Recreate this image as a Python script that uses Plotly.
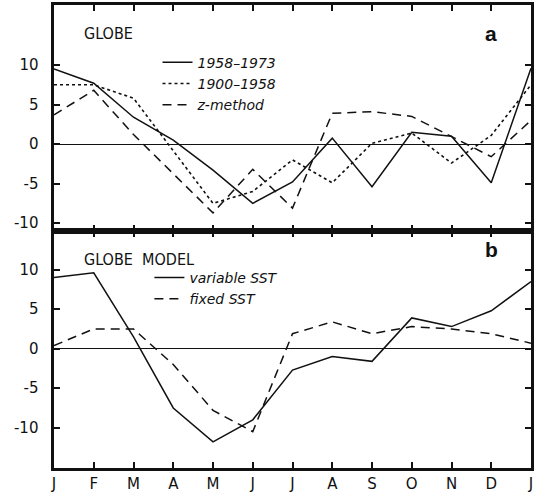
import plotly.graph_objects as go

months = ["J", "F", "M", "A", "M", "J", "J", "A", "S", "O", "N", "D", "J"]
xpos = list(range(13))

obs_1958_1973 = [9.5, 7.7, 3.4, 0.5, -3.3, -7.5, -4.8, 0.75, -5.4, 1.5, 1.0, -4.9, 9.6]
obs_1900_1958 = [7.5, 7.5, 5.8, -0.9, -7.5, -6.0, -2.0, -4.9, 0.1, 1.4, -2.4, 1.1, 7.5]
obs_zmethod = [3.7, 6.8, 1.2, -3.7, -8.7, -3.2, -8.1, 3.9, 4.1, 3.5, 1.0, -1.6, 3.0]

model_variable = [9.0, 9.6, 1.5, -7.5, -11.8, -9.0, -2.7, -1.0, -1.6, 3.9, 2.8, 4.8, 8.5]
model_fixed = [0.4, 2.5, 2.5, -2.0, -7.8, -10.5, 1.9, 3.4, 1.9, 2.8, 2.5, 1.9, 0.7]

ytick_vals = [-10, -5, 0, 5, 10]
ytick_text = ["-10", "-5", "0", "5", "10"]

BLACK = "#111111"
DASH = "9px,6px"
fig = go.Figure()

fig.add_trace(go.Scatter(x=xpos, y=obs_1958_1973, mode="lines", name="1958\u20131973",
                         line=dict(color=BLACK, width=1.5), xaxis="x", yaxis="y", legend="legend"))
fig.add_trace(go.Scatter(x=xpos, y=obs_1900_1958, mode="lines", name="1900\u20131958",
                         line=dict(color=BLACK, width=1.6, dash="dot"), xaxis="x", yaxis="y", legend="legend"))
fig.add_trace(go.Scatter(x=xpos, y=obs_zmethod, mode="lines", name="z-method",
                         line=dict(color=BLACK, width=1.5, dash=DASH), xaxis="x", yaxis="y", legend="legend"))

fig.add_trace(go.Scatter(x=xpos, y=model_variable, mode="lines", name="variable SST",
                         line=dict(color=BLACK, width=1.5), xaxis="x2", yaxis="y2", legend="legend2"))
fig.add_trace(go.Scatter(x=xpos, y=model_fixed, mode="lines", name="fixed SST",
                         line=dict(color=BLACK, width=1.5, dash=DASH), xaxis="x2", yaxis="y2", legend="legend2"))

tickfont = dict(family="DejaVu Sans, Liberation Sans, Arial, sans-serif", size=15, color=BLACK)
ylabels = [t + "\u00a0\u00a0" for t in ytick_text]
common_x = dict(range=[0, 12], tickvals=xpos, ticks="inside", ticklen=6, tickwidth=1.5,
                tickcolor=BLACK, showline=True, linecolor=BLACK, linewidth=3, mirror="ticks",
                showgrid=False, zeroline=False, fixedrange=True)
common_y = dict(tickvals=ytick_vals, ticktext=ylabels, ticks="inside", ticklen=6, tickwidth=1.5,
                tickcolor=BLACK, showline=True, linecolor=BLACK, linewidth=3, mirror="ticks",
                showgrid=False, zeroline=True, zerolinecolor=BLACK, zerolinewidth=1,
                tickfont=tickfont)

split = 237 / 463
legfont = dict(family="DejaVu Sans, Liberation Sans, Arial, sans-serif", size=14, color=BLACK, style="italic")

fig.update_layout(
    width=535, height=499,
    margin=dict(l=54, r=1, t=5, b=31),
    paper_bgcolor="white", plot_bgcolor="white",
    showlegend=True,
    xaxis=dict(**common_x, domain=[0, 1], anchor="y", showticklabels=False),
    yaxis=dict(**common_y, domain=[split, 1], range=[-11.0, 17.6], anchor="x"),
    xaxis2=dict(**common_x, domain=[0, 1], anchor="y2", ticktext=months, showticklabels=True,
                tickfont=tickfont),
    yaxis2=dict(**common_y, domain=[0, split], range=[-15.1, 14.9], anchor="x2"),
    legend=dict(x=0.217, y=0.91, xanchor="left", yanchor="top", bgcolor="rgba(0,0,0,0)",
                font=legfont, tracegroupgap=0, itemwidth=30),
    legend2=dict(x=0.2, y=0.445, xanchor="left", yanchor="top", bgcolor="rgba(0,0,0,0)",
                 font=legfont, tracegroupgap=0, itemwidth=30),
)

labfont = dict(family="Liberation Sans Narrow, DejaVu Sans Condensed, Arial Narrow, sans-serif", size=16, color=BLACK)
fig.add_annotation(text="GLOBE", xref="paper", yref="paper", x=(82 - 54) / 480, y=1 - (33 - 5) / 463,
                   xanchor="left", yanchor="middle", showarrow=False, font=labfont)
fig.add_annotation(text="GLOBE  MODEL", xref="paper", yref="paper", x=(82 - 54) / 480, y=1 - (259 - 5) / 463,
                   xanchor="left", yanchor="middle", showarrow=False, font=labfont)
boldfont = dict(family="Liberation Sans, Arial, sans-serif", size=21, color=BLACK, weight="bold")
fig.add_annotation(text="a", xref="paper", yref="paper", x=(494 - 54) / 480, y=1 - (33 - 5) / 463,
                   xanchor="center", yanchor="middle", showarrow=False, font=boldfont)
fig.add_annotation(text="b", xref="paper", yref="paper", x=(494 - 54) / 480, y=1 - (249 - 5) / 463,
                   xanchor="center", yanchor="middle", showarrow=False, font=boldfont)

fig.write_html("out.html")
